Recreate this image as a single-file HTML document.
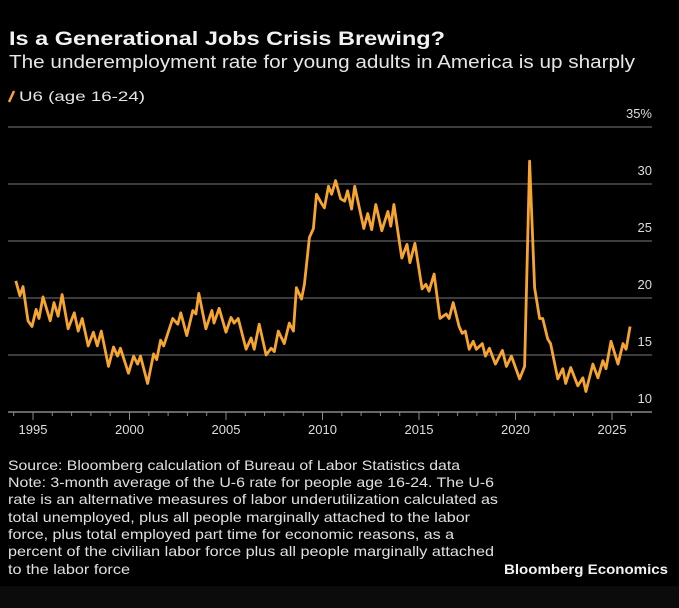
<!DOCTYPE html>
<html><head><meta charset="utf-8"><style>
html,body{margin:0;padding:0;background:#000;}
svg{display:block;font-family:"Liberation Sans",sans-serif;}
</style></head><body>
<svg id="chart" width="679" height="608">
<rect x="0" y="0" width="679" height="608" fill="#000"/>
<rect x="0" y="586" width="679" height="22" fill="#0b0b0b"/>
<text x="9" y="45" font-size="19" font-weight="bold" fill="#f2f2f2" textLength="436" lengthAdjust="spacingAndGlyphs">Is a Generational Jobs Crisis Brewing?</text>
<text x="9" y="68" font-size="18" fill="#e6e6e6" textLength="626" lengthAdjust="spacingAndGlyphs">The underemployment rate for young adults in America is up sharply</text>
<line x1="9" y1="102" x2="14" y2="91" stroke="#f7a531" stroke-width="2.5"/>
<text x="19" y="101" font-size="14" fill="#e6e6e6" textLength="126" lengthAdjust="spacingAndGlyphs">U6 (age 16-24)</text>
<g id="grid"></g>
<g id="xaxis"></g>
<path id="line" fill="none" stroke="#f7a531" stroke-width="2.8" stroke-linejoin="round"/>
<g id="notes" font-size="14" fill="#e0e0e0">
<text x="8" y="470" textLength="452" lengthAdjust="spacingAndGlyphs">Source: Bloomberg calculation of Bureau of Labor Statistics data</text>
<text x="8" y="487" textLength="486" lengthAdjust="spacingAndGlyphs">Note: 3-month average of the U-6 rate for people age 16-24. The U-6</text>
<text x="8" y="504" textLength="490" lengthAdjust="spacingAndGlyphs">rate is an alternative measures of labor underutilization calculated as</text>
<text x="8" y="522" textLength="462" lengthAdjust="spacingAndGlyphs">total unemployed, plus all people marginally attached to the labor</text>
<text x="8" y="539" textLength="446" lengthAdjust="spacingAndGlyphs">force, plus total employed part time for economic reasons, as a</text>
<text x="8" y="556" textLength="486" lengthAdjust="spacingAndGlyphs">percent of the civilian labor force plus all people marginally attached</text>
<text x="8" y="574" textLength="122" lengthAdjust="spacingAndGlyphs">to the labor force</text>
</g>
<text x="668" y="574" text-anchor="end" font-size="14" font-weight="bold" fill="#f2f2f2" textLength="164" lengthAdjust="spacingAndGlyphs">Bloomberg Economics</text>
</svg>
<script>
const years = [1994.11,1994.32,1994.48,1994.74,1994.95,1995.16,1995.31,1995.52,1995.89,1996.09,1996.30,1996.51,1996.82,1997.14,1997.34,1997.55,1997.86,1998.13,1998.33,1998.54,1998.91,1999.17,1999.38,1999.53,1999.95,2000.21,2000.42,2000.57,2000.94,2001.25,2001.41,2001.61,2001.77,2002.24,2002.50,2002.66,2002.97,2003.28,2003.44,2003.59,2003.96,2004.27,2004.38,2004.64,2005.00,2005.26,2005.42,2005.63,2006.04,2006.30,2006.46,2006.72,2007.08,2007.34,2007.50,2007.71,2008.02,2008.28,2008.49,2008.65,2008.91,2009.06,2009.32,2009.53,2009.69,2009.95,2010.10,2010.31,2010.47,2010.68,2010.94,2011.15,2011.30,2011.51,2011.67,2012.14,2012.34,2012.55,2012.76,2013.07,2013.39,2013.54,2013.70,2014.11,2014.38,2014.53,2014.79,2015.16,2015.36,2015.52,2015.78,2016.09,2016.41,2016.56,2016.77,2017.08,2017.24,2017.40,2017.60,2017.81,2017.97,2018.28,2018.44,2018.65,2018.96,2019.32,2019.53,2019.79,2020.21,2020.47,2020.73,2020.99,2021.25,2021.41,2021.67,2021.82,2022.19,2022.45,2022.60,2022.86,2023.23,2023.49,2023.65,2024.01,2024.27,2024.53,2024.69,2024.95,2025.31,2025.57,2025.73,2025.94];
const values = [21.5,20.2,21,18,17.5,19,18.2,20.1,18,19.6,18.4,20.3,17.3,18.7,17.1,18.2,15.8,17,15.8,17.1,14,15.7,14.9,15.6,13.4,14.9,14.2,14.9,12.5,15.1,14.6,16.3,15.8,18.2,17.7,18.7,16.7,18.9,18.6,20.4,17.3,18.9,17.8,19.1,17,18.3,17.8,18.2,15.5,16.5,15.5,17.7,15,15.6,15.3,17.1,16,17.8,17.1,20.9,19.9,21.2,25.3,26.1,29.1,28.3,27.9,29.8,29.1,30.3,28.7,28.5,29.4,27.8,29.8,26.1,27.4,26,28.2,25.9,27.6,26.3,28.2,23.5,24.7,23.1,24.8,20.8,21.2,20.6,22.1,18.2,18.6,18.2,19.6,17.5,16.9,17.1,15.5,16.2,15.5,16,14.9,15.6,14.2,15.4,14,14.9,12.9,14,32,20.9,18.2,18.2,16.4,16,12.9,13.8,12.5,13.9,12.3,13,11.8,14.2,13,14.5,13.8,16.2,14.2,16,15.5,17.5];
const yTicks = [10,15,20,25,30,35];
const yTickLabels = ["10","15","20","25","30","35%"];
const xTicks = [1995,2000,2005,2010,2015,2020,2025];

const NS = "http://www.w3.org/2000/svg";
function xs(yr){ return 33 + (yr - 1995) * 19.3; }
function ys(v){ return 412 - (v - 10) * 11.4; }

const grid = document.getElementById('grid');
yTicks.forEach((t,i) => {
  if (t !== 10) {
    const l = document.createElementNS(NS,'line');
    l.setAttribute('x1',8); l.setAttribute('x2',652);
    l.setAttribute('y1',ys(t)); l.setAttribute('y2',ys(t));
    l.setAttribute('stroke','#505050'); l.setAttribute('stroke-width','1.5');
    
    
    grid.appendChild(l);
  }
  const tx = document.createElementNS(NS,'text');
  tx.setAttribute('x',652); tx.setAttribute('y',ys(t)-9);
  tx.setAttribute('text-anchor','end'); tx.setAttribute('font-size','13');
  tx.setAttribute('fill','#dcdcdc');
  tx.textContent = yTickLabels[i];
  
  
  grid.appendChild(tx);
});

const xa = document.getElementById('xaxis');
const base = document.createElementNS(NS,'line');
base.setAttribute('x1',8); base.setAttribute('x2',652);
base.setAttribute('y1',412); base.setAttribute('y2',412);
base.setAttribute('stroke','#888'); base.setAttribute('stroke-width','1.5');


xa.appendChild(base);
for (let yr = 1994; yr <= 2026; yr++) {
  const major = xTicks.indexOf(yr) >= 0;
  const t = document.createElementNS(NS,'line');
  t.setAttribute('x1',xs(yr)); t.setAttribute('x2',xs(yr));
  t.setAttribute('y1',412); t.setAttribute('y2', major ? 420 : 416);
  t.setAttribute('stroke','#888'); t.setAttribute('stroke-width','1');
  
  
  xa.appendChild(t);
}
xTicks.forEach(yr => {
  const tx = document.createElementNS(NS,'text');
  tx.setAttribute('x',xs(yr)); tx.setAttribute('y',434);
  tx.setAttribute('text-anchor','middle'); tx.setAttribute('font-size','13');
  tx.setAttribute('fill','#dcdcdc');
  tx.textContent = String(yr);
  
  
  xa.appendChild(tx);
});

let d = '';
years.forEach((yr,i) => { d += (i ? 'L' : 'M') + xs(yr).toFixed(1) + ',' + ys(values[i]).toFixed(1); });
document.getElementById('line').setAttribute('d', d);
</script>
</body></html>
